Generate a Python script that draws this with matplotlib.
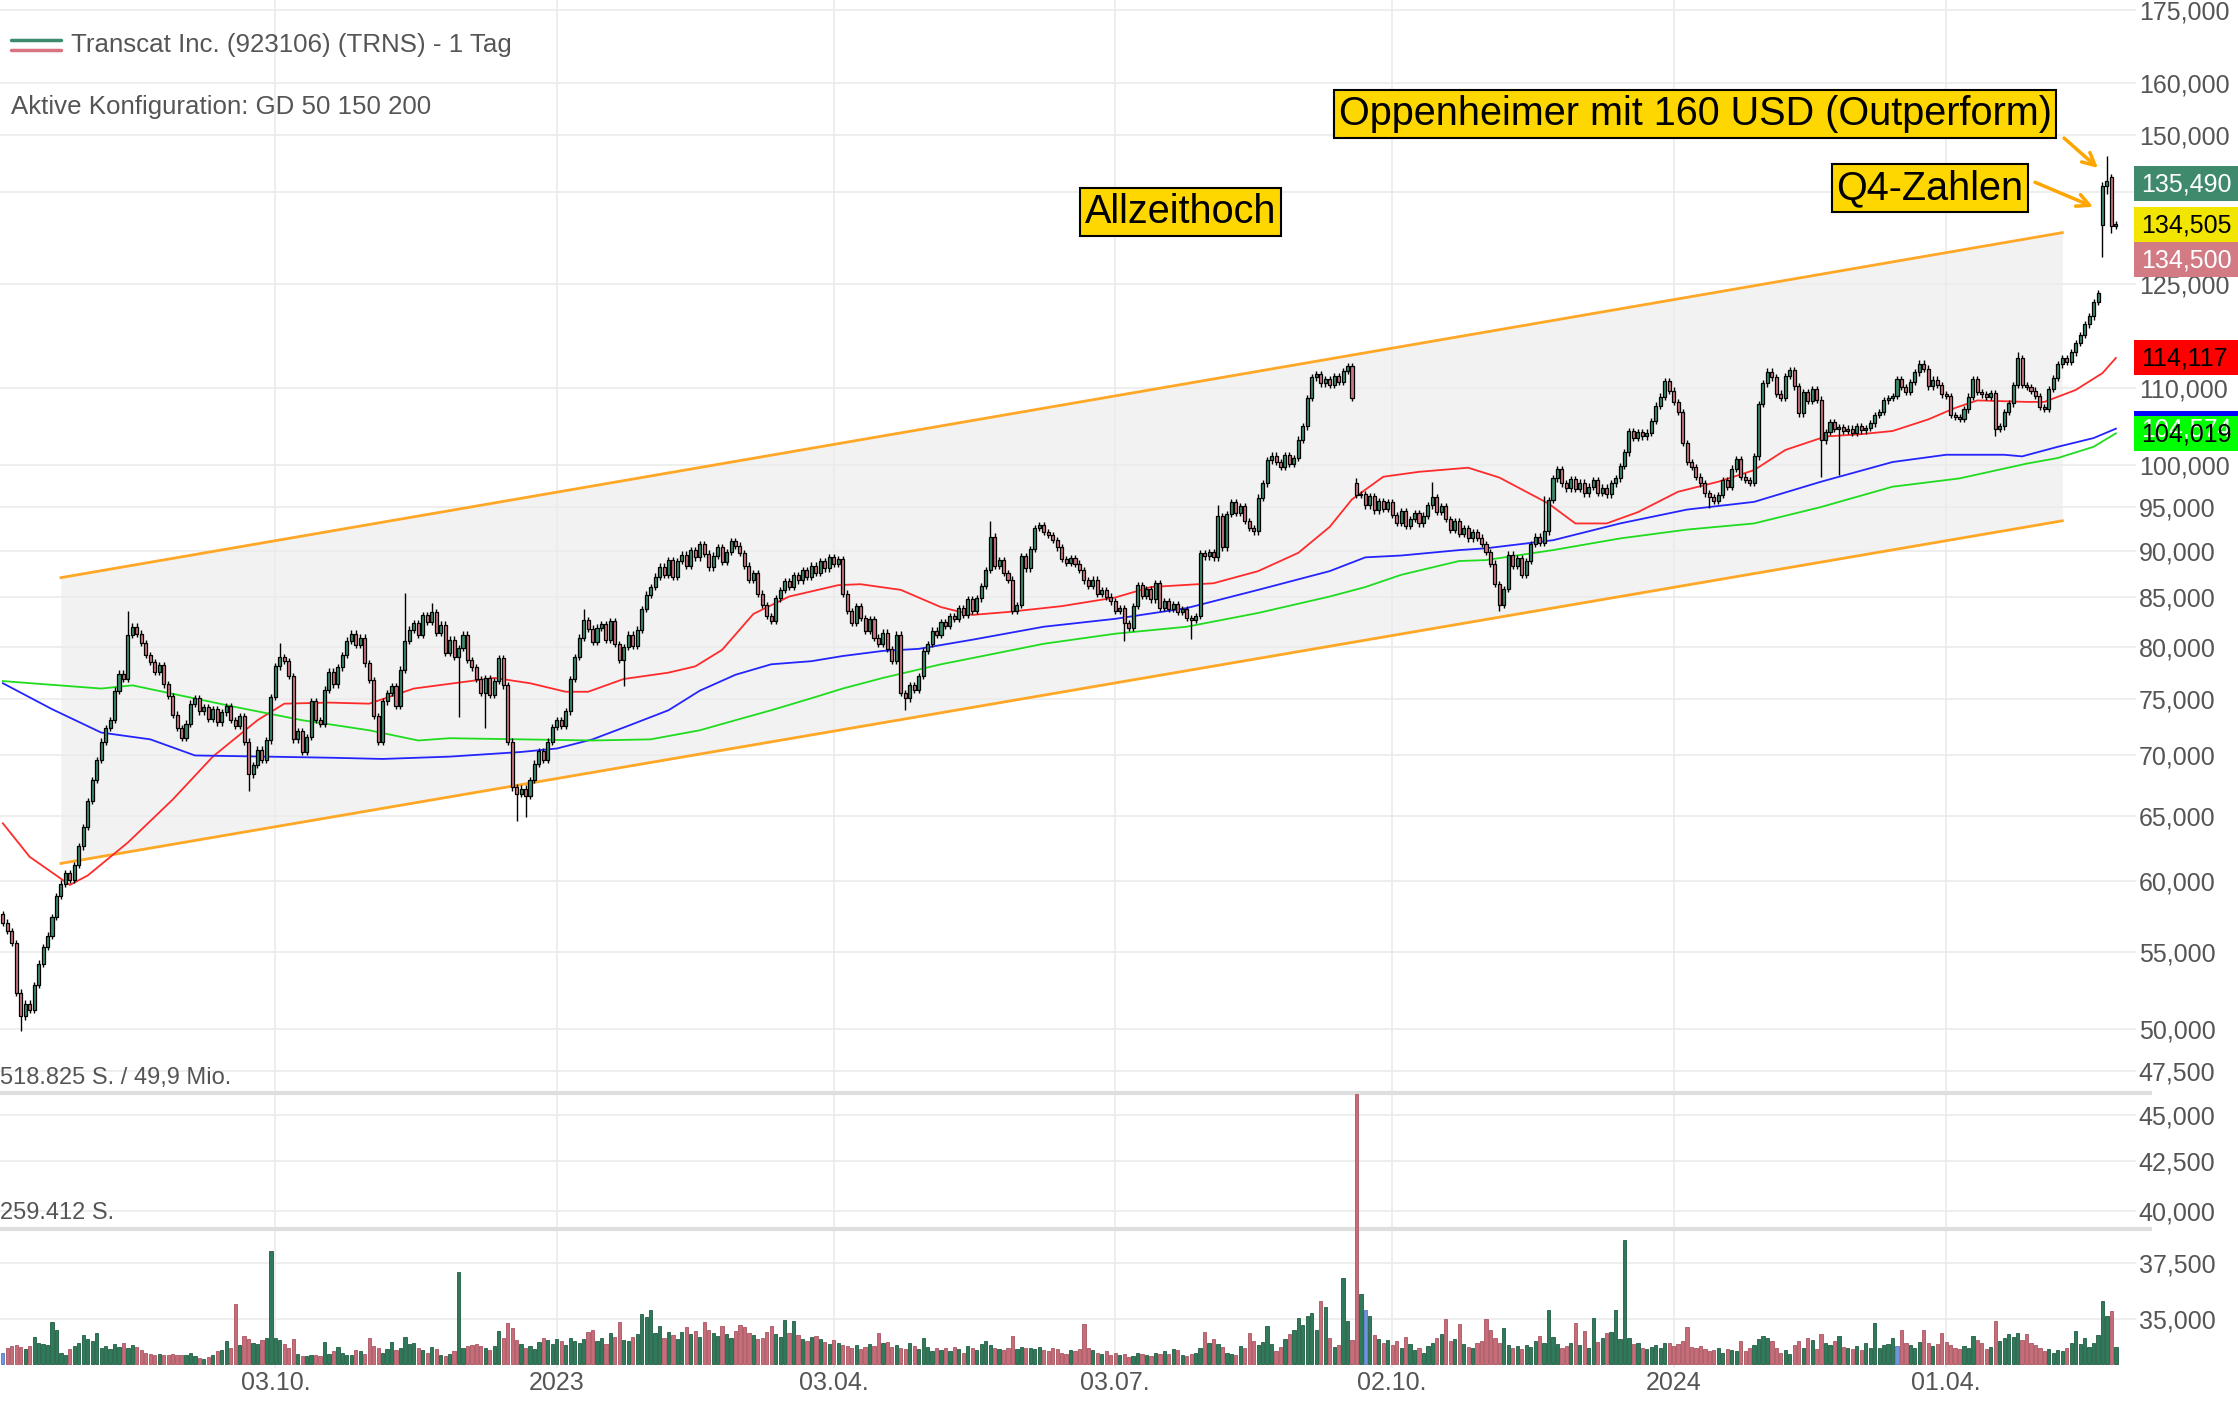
import matplotlib
matplotlib.use("Agg")
import matplotlib.pyplot as plt
from matplotlib.patches import Rectangle
from matplotlib.ticker import NullLocator
import numpy as np

plt.rcParams['font.family'] = ['Liberation Sans', 'DejaVu Sans']

# daily closes in USD, one per trading day (Jul 2022 - May 2024)
closes = [
    57.0, 56.4, 55.6, 52.3, 50.8, 51.6, 51.2, 52.8, 54.2, 55.3,
    56.1, 57.4, 58.9, 59.8, 60.6, 60.1, 61.2, 62.6, 64.1, 66.2,
    67.9, 69.6, 71.2, 72.4, 73.1, 75.8, 77.4, 76.9, 81.2, 82.0,
    81.3, 80.4, 79.2, 78.5, 77.6, 78.2, 76.4, 75.3, 73.6, 72.4,
    71.5, 72.8, 74.6, 75.1, 73.9, 74.3, 73.2, 74.1, 72.9, 73.8,
    74.4, 73.1, 72.6, 73.5, 71.2, 68.4, 69.2, 70.5, 69.6, 71.3,
    75.2, 78.1, 79.0, 78.6, 77.2, 71.4, 72.1, 70.3, 71.6, 74.8,
    73.1, 72.8, 75.9, 77.6, 76.4, 78.0, 79.2, 80.6, 81.3, 80.2,
    80.9, 78.4, 76.8, 73.5, 71.2, 74.8, 75.6, 76.2, 74.4, 77.8,
    80.6, 81.7, 82.4, 81.2, 83.2, 82.5, 83.5, 81.4, 82.2, 79.4,
    80.7, 79.0, 79.9, 81.2, 78.7, 78.0, 76.9, 75.6, 77.0, 75.4,
    76.7, 78.9, 76.3, 71.2, 67.3, 66.8, 67.2, 66.6, 67.9, 69.3,
    70.4, 69.6, 71.2, 72.5, 73.1, 72.6, 73.9, 76.9, 79.0, 80.9,
    82.7, 81.8, 80.5, 81.9, 82.3, 80.7, 82.6, 80.3, 78.7, 80.0,
    81.2, 80.1, 81.7, 83.8, 85.3, 86.1, 87.2, 88.3, 87.4, 89.0,
    87.2, 88.9, 89.6, 88.4, 90.1, 89.3, 90.8, 89.7, 88.2, 89.5,
    90.4, 88.8, 89.9, 91.1, 90.6, 89.8, 88.4, 86.9, 87.6, 85.4,
    84.2, 83.1, 82.6, 84.9, 85.8, 86.7, 86.1, 87.4, 86.8, 87.9,
    87.2, 88.4, 87.6, 88.9, 88.1, 89.3, 88.6, 89.1, 85.4, 83.6,
    82.4, 84.1, 82.9, 81.6, 82.8, 80.9, 80.3, 81.4, 79.8, 78.6,
    81.2, 75.6, 75.1, 76.3, 75.9, 77.2, 79.6, 80.3, 81.6, 81.2,
    82.5, 82.1, 83.1, 82.8, 83.9, 83.2, 84.8, 83.6, 84.9, 86.2,
    87.9, 91.6, 88.4, 89.0, 87.6, 86.9, 83.6, 84.2, 89.4, 88.1,
    90.2, 92.6, 92.9, 92.1, 91.8, 91.2, 90.4, 89.1, 88.7, 89.2,
    88.6, 87.9, 86.8, 86.2, 86.9, 85.4, 85.8, 85.1, 84.6, 83.6,
    83.9, 82.4, 81.9, 84.1, 86.3, 85.2, 85.9, 84.8, 86.5, 83.9,
    84.6, 83.8, 84.3, 83.5, 83.8, 82.9, 82.7, 83.1, 89.8, 89.4,
    89.9, 89.3, 93.9, 90.4, 94.2, 95.6, 94.3, 95.1, 93.4, 92.6,
    92.2, 96.1, 97.8, 100.6, 101.2, 100.4, 99.8, 101.3, 100.2, 100.9,
    103.2, 104.9, 108.6, 111.4, 111.9, 110.6, 111.2, 110.4, 111.6, 110.8,
    112.3, 113.0, 108.6, 96.4, 96.5, 95.2, 96.3, 94.6, 95.7, 94.8,
    95.6, 94.1, 93.2, 94.5, 92.8, 93.6, 94.3, 93.1, 94.0, 95.2,
    96.2, 94.4, 95.1, 93.6, 92.4, 93.4, 91.9, 92.6, 91.4, 92.1,
    91.5, 90.8, 89.9, 88.6, 86.4, 84.2, 85.9, 89.6, 88.4, 89.2,
    87.4, 88.9, 90.8, 91.6, 90.9, 92.2, 95.8, 98.4, 99.5, 97.8,
    97.2, 98.3, 97.1, 97.9, 96.6, 97.4, 98.2, 96.7, 97.3, 96.5,
    97.8, 98.4, 99.9, 101.6, 104.3, 103.4, 104.2, 103.6, 104.1, 105.6,
    107.6, 108.8, 110.9, 109.6, 108.1, 106.8, 102.8, 100.4, 99.8, 98.6,
    97.8, 96.6, 96.2, 95.7, 96.4, 98.2, 97.4, 99.6, 100.8, 98.6,
    98.2, 97.9, 101.1, 107.8, 110.6, 112.2, 111.4, 109.2, 108.6, 111.6,
    112.4, 110.2, 106.6, 109.4, 108.2, 109.8, 108.4, 103.1, 104.2, 105.4,
    104.6, 104.8, 104.3, 104.6, 104.1, 104.9, 104.4, 104.7, 105.3, 106.4,
    106.8, 108.3, 108.6, 108.9, 111.2, 110.1, 109.4, 110.8, 112.1, 113.3,
    112.6, 110.2, 111.1, 110.4, 109.1, 108.9, 106.4, 106.1, 105.9, 107.1,
    108.8, 111.2, 109.4, 109.1, 108.8, 109.3, 104.6, 104.9, 106.8, 107.9,
    110.4, 114.1, 110.4, 110.1, 109.6, 108.9, 107.4, 107.2, 109.8, 111.3,
    113.2, 114.1, 113.6, 114.9, 116.2, 117.4, 118.9, 120.1, 122.2, 123.6,
    140.9, 141.8, 134.2, 134.5,
]
# opens differing from the previous close (gaps)
gap_opens = {0: 57.6, 303: 97.8, 470: 134.4, 472: 142.6}
# long wicks visible on the chart
lows_marked = {4: 49.9, 55: 67.0, 102: 73.4, 108: 72.4, 115: 64.6, 117: 64.9, 139: 76.2,
               202: 74.0, 251: 80.6, 266: 80.8, 335: 83.6, 382: 94.9, 407: 98.6, 411: 98.8,
               446: 103.6, 470: 129.2, 471: 139.6, 472: 133.1}
highs_marked = {28: 83.6, 62: 80.4, 90: 85.5, 96: 84.4, 130: 83.8, 221: 93.4, 272: 95.2,
                303: 98.4, 320: 98.0, 345: 96.3, 451: 115.0, 470: 141.6, 471: 146.3, 472: 143.0}

# daily volume in thousand shares
volume_k = [
    22, 30, 34, 36, 33, 28, 35, 52, 40, 38,
    36, 80, 66, 22, 18, 28, 34, 40, 56, 48,
    44, 60, 30, 34, 28, 38, 32, 40, 30, 36,
    32, 26, 22, 20, 18, 20, 18, 17, 19, 18,
    17, 18, 22, 15, 12, 10, 14, 18, 24, 26,
    44, 30, 115, 36, 54, 47, 40, 38, 45, 50,
    216, 50, 45, 38, 30, 47, 20, 16, 15, 17,
    18, 16, 43, 20, 25, 32, 22, 18, 17, 26,
    24, 20, 49, 34, 30, 22, 28, 43, 26, 30,
    52, 38, 40, 30, 26, 22, 32, 28, 18, 16,
    20, 24, 177, 30, 35, 36, 38, 34, 30, 26,
    34, 63, 50, 79, 68, 45, 38, 30, 35, 28,
    42, 50, 46, 38, 48, 44, 36, 50, 44, 40,
    48, 62, 66, 44, 50, 38, 60, 52, 81, 46,
    44, 52, 58, 95, 90, 103, 60, 73, 50, 62,
    55, 48, 62, 70, 58, 64, 52, 80, 66, 60,
    54, 72, 58, 50, 64, 74, 70, 60, 56, 48,
    50, 62, 73, 58, 52, 85, 60, 82, 55, 48,
    44, 52, 54, 48, 42, 38, 46, 40, 36, 34,
    30, 36, 28, 32, 38, 34, 60, 40, 43, 32,
    36, 30, 28, 40, 34, 28, 49, 32, 24, 30,
    26, 30, 24, 32, 28, 22, 34, 30, 26, 38,
    44, 36, 30, 28, 26, 30, 54, 28, 32, 30,
    30, 28, 32, 26, 24, 30, 28, 22, 20, 26,
    24, 28, 77, 30, 26, 22, 20, 24, 18, 22,
    18, 20, 14, 16, 22, 20, 18, 16, 22, 20,
    24, 20, 28, 26, 18, 16, 20, 22, 30, 61,
    40, 47, 38, 32, 22, 20, 18, 34, 30, 60,
    44, 36, 42, 73, 38, 24, 32, 48, 57, 66,
    88, 74, 92, 98, 66, 120, 110, 50, 32, 36,
    165, 82, 45, 516, 134, 104, 92, 55, 48, 40,
    46, 36, 44, 30, 51, 38, 26, 30, 22, 34,
    40, 50, 58, 86, 44, 48, 76, 38, 32, 30,
    40, 44, 86, 66, 50, 40, 68, 36, 30, 34,
    28, 36, 32, 44, 54, 40, 104, 52, 38, 30,
    34, 40, 79, 36, 63, 30, 88, 42, 50, 60,
    62, 104, 48, 237, 50, 38, 40, 30, 28, 32,
    36, 30, 41, 40, 34, 38, 44, 71, 32, 30,
    34, 28, 24, 26, 30, 22, 28, 26, 24, 44,
    24, 30, 36, 48, 54, 50, 44, 30, 22, 26,
    20, 36, 44, 30, 50, 46, 28, 58, 40, 36,
    44, 54, 32, 30, 28, 34, 26, 40, 30, 79,
    30, 36, 38, 50, 34, 66, 40, 36, 30, 42,
    66, 40, 34, 38, 60, 42, 36, 30, 28, 34,
    30, 54, 46, 40, 28, 32, 82, 44, 50, 57,
    52, 60, 46, 58, 40, 36, 30, 24, 28, 22,
    26, 24, 30, 41, 63, 38, 50, 32, 40, 56,
    120, 92, 101, 32,
]
neutral_days = [0, 305, 424]  # bars drawn blue

# moving averages (GD 50 / 150 / 200)
gd50_days = [0, 6, 15, 19, 28, 38, 47, 57, 63, 73, 82, 92, 110, 118, 126, 131, 139, 149, 155, 161,
             168, 176, 187, 192, 201, 210, 217, 225, 237, 249, 257, 271, 281, 290, 297, 302, 309, 317, 328, 335,
             346, 352, 359, 366, 375, 384, 392, 399, 408, 416, 423, 431, 437, 442, 453, 457, 464, 470, 473]
gd50 = [64.4, 61.8, 59.7, 60.4, 62.9, 66.3, 69.9, 73.1, 74.6, 74.7, 74.6, 76.0, 77.0, 76.5, 75.7, 75.7, 76.9, 77.5, 78.1, 79.7,
        83.3, 85.1, 86.3, 86.4, 85.8, 84.0, 83.2, 83.5, 84.1, 85.0, 86.1, 86.5, 87.8, 89.8, 92.7, 95.9, 98.6, 99.2, 99.7, 98.5,
        95.4, 93.1, 93.1, 94.4, 96.8, 98.0, 99.4, 101.9, 103.6, 103.9, 104.3, 105.8, 107.3, 108.3, 108.1, 108.1, 109.7, 112.0, 114.1]
gd150_days = [0, 11, 22, 33, 43, 59, 74, 85, 100, 116, 124, 132, 140, 149, 156, 164, 172, 181, 188, 197,
              205, 217, 233, 249, 265, 281, 297, 305, 313, 326, 332, 347, 362, 377, 392, 407, 423, 435, 448, 452,
              460, 468, 473]
gd150 = [76.5, 74.1, 72.0, 71.4, 70.0, 69.9, 69.8, 69.7, 69.9, 70.3, 70.6, 71.4, 72.6, 74.0, 75.8, 77.3, 78.3, 78.6, 79.1, 79.6,
         79.8, 80.7, 82.0, 82.8, 83.9, 85.8, 87.8, 89.3, 89.5, 90.1, 90.3, 91.2, 93.1, 94.7, 95.6, 98.0, 100.4, 101.3, 101.3, 101.1,
         102.3, 103.4, 104.6]
gd200_days = [0, 22, 29, 37, 52, 67, 82, 93, 100, 116, 132, 145, 156, 164, 172, 181, 188, 197, 210, 217,
              233, 249, 265, 281, 297, 305, 313, 326, 332, 347, 362, 377, 392, 407, 423, 438, 453, 460, 468, 473]
gd200 = [76.7, 76.0, 76.3, 75.6, 74.3, 73.1, 72.2, 71.3, 71.5, 71.4, 71.3, 71.4, 72.2, 73.1, 74.0, 75.1, 76.0, 77.0, 78.3, 78.9,
         80.3, 81.3, 82.0, 83.4, 85.1, 86.1, 87.4, 88.9, 89.0, 90.1, 91.4, 92.4, 93.1, 95.0, 97.4, 98.4, 100.2, 100.9, 102.3, 104.0]

# trend channel
channel_days = [13, 461]
channel_upper = [87.1, 133.1]
channel_lower = [61.3, 93.4]

tick_days = [61, 124, 186, 249, 311, 374, 435]
tick_labels = ["03.10.", "2023", "03.04.", "03.07.", "02.10.", "2024", "01.04."]
price_ticks = [35, 37.5, 40, 42.5, 45, 47.5, 50, 55, 60, 65, 70, 75, 80, 85, 90, 95,
               100, 110, 125, 140, 150, 160, 175]
hidden_tick_labels = [140]  # covered by the quote boxes

vol_marks = [518825, 259412]
vol_texts = ["518.825 S. / 49,9 Mio.", "259.412 S."]

# last quotes shown in the right margin: value, face, text colour, stacking slot
quote_values = [104.574, 104.019, 114.117, 135.490, 134.505, 134.500]
quote_faces = ['#0000ff', '#00ff00', '#ff0000', '#3f8a6d', '#f2e600', '#d27b85']
quote_text = ['white', 'black', 'black', 'white', 'black', 'white']
quote_slot = [0, 0, 0, -1, 0, 1]

notes = ["Oppenheimer mit 160 USD (Outperform)", "Q4-Zahlen", "Allzeithoch"]
note_pos = [(378.8, 154.0), (431.4, 140.6), (263.7, 136.5)]
arrow_from = [(461.4, 149.5), (454.9, 141.6)]
arrow_to = [(469.0, 144.1), (467.9, 137.4)]

GRAY = '#555555'
W, H = 2238, 1404
fig = plt.figure(figsize=(W / 100, H / 100), dpi=100)
rect = [0, 1 - 1368 / H, 2136 / W, 1368 / H]
ax = fig.add_axes(rect)
ax.set_yscale('log')
ax.set_ylim(32.97, 177.16)
ax.set_xlim(-0.64, 477.5)

n = len(closes)
idx = np.arange(n)
c = np.array(closes)
o = np.array([gap_opens.get(i, closes[i - 1]) for i in range(n)])
hi = np.array([highs_marked.get(i, max(o[i], c[i]) * 1.004) for i in range(n)])
lo = np.array([lows_marked.get(i, min(o[i], c[i]) * 0.996) for i in range(n)])
up = c >= o

# channel
ax.fill_between(channel_days, channel_lower, channel_upper, color='#f2f2f2', lw=0, zorder=0)
ax.plot(channel_days, channel_upper, color='#ffa726', lw=2.0, zorder=1)
ax.plot(channel_days, channel_lower, color='#ffa726', lw=2.0, zorder=1)

# moving averages
ax.plot(gd50_days, gd50, color='#ff2b2b', lw=1.3, zorder=2)
ax.plot(gd150_days, gd150, color='#2424ff', lw=1.3, zorder=2)
ax.plot(gd200_days, gd200, color='#1fdc1f', lw=1.3, zorder=2)

# candles
ax.vlines(idx, lo, hi, color='black', lw=1.0, zorder=3)
body_col = np.where(up, '#3d8b6d', '#cd7680')
ax.bar(idx, np.maximum(np.abs(c - o), 0.05), bottom=np.minimum(o, c), width=0.68,
       color=body_col, edgecolor='black', linewidth=0.9, zorder=4)

# axes styling
ax.set_axisbelow(True)
ax.set_yticks(price_ticks)
ax.set_yticklabels(["" if v in hidden_tick_labels else f"{v:.3f}".replace('.', ',')
                    for v in price_ticks])
ax.yaxis.set_minor_locator(NullLocator())
ax.yaxis.tick_right()
ax.set_xticks(tick_days, tick_labels)
ax.grid(True, color='#ebebeb', lw=1.2)
ax.tick_params(axis='y', length=0, pad=2, labelsize=18, labelcolor=GRAY)
ax.tick_params(axis='x', length=0, pad=2, labelsize=18, labelcolor=GRAY)
for s in ax.spines.values():
    s.set_visible(False)

# notes and arrows
for txt, (x, y) in zip(notes, note_pos):
    ax.text(x, y, txt, ha='center', va='center', fontsize=28.5, color='black', zorder=6,
            bbox=dict(boxstyle='square,pad=0.12', fc='#ffd700', ec='black', lw=1.5))
for a, b in zip(arrow_from, arrow_to):
    ax.annotate('', xy=b, xytext=a, zorder=6,
                arrowprops=dict(arrowstyle='->,head_length=0.9,head_width=0.45', color='#ffa500',
                                lw=2.5, shrinkA=0, shrinkB=0))

# volume panel
vax = fig.add_axes(rect, sharex=ax)
vax.patch.set_visible(False)
vax.axis('off')
vax.set_ylim(-7658, 2611400)
vol = np.array(volume_k) * 1000
vcol = np.where(up, '#2f7a5a', '#c66d79')
vedge = np.where(up, '#215c42', '#a95560')
vcol[neutral_days] = '#6f95e0'
vedge[neutral_days] = '#5577c0'
vax.bar(idx, vol, width=0.72, color=vcol, edgecolor=vedge, linewidth=0.6)
for m, t in zip(vol_marks, vol_texts):
    vax.plot([0, 1.0066], [m, m], transform=vax.get_yaxis_transform(), color='#dedede',
             lw=3, clip_on=False, zorder=0)
    vax.annotate(t, (0, m), xycoords=vax.get_yaxis_transform(), xytext=(0, 3),
                 textcoords='offset points', va='bottom', ha='left', fontsize=17, color=GRAY)

# overlay for margin boxes and header
lay = fig.add_axes([0, 0, 1, 1])
lay.set_xlim(0, W)
lay.set_ylim(H, 0)
lay.axis('off')
BOX_H = 35
for v, fc, tc, slot in zip(quote_values, quote_faces, quote_text, quote_slot):
    yc = H - ax.transData.transform((0, v))[1] + slot * BOX_H
    lay.add_patch(Rectangle((2134, yc - BOX_H / 2), 110, BOX_H, fc=fc, ec='none'))
    lay.text(2141, yc + 1, f"{v:.3f}".replace('.', ','), ha='left', va='center',
             fontsize=18, color=tc)

lay.plot([11, 61], [40, 40], color='#3d8b6d', lw=2.5, solid_capstyle='round')
lay.plot([11, 61], [50, 50], color='#d8737f', lw=2.5, solid_capstyle='round')
lay.text(71, 45, "Transcat Inc. (923106) (TRNS) - 1 Tag", ha='left', va='center',
         fontsize=18.6, color=GRAY)
lay.text(11, 107, "Aktive Konfiguration: GD 50 150 200", ha='left', va='center',
         fontsize=18.6, color=GRAY)

fig.savefig('out.png', dpi=100, facecolor='white')
